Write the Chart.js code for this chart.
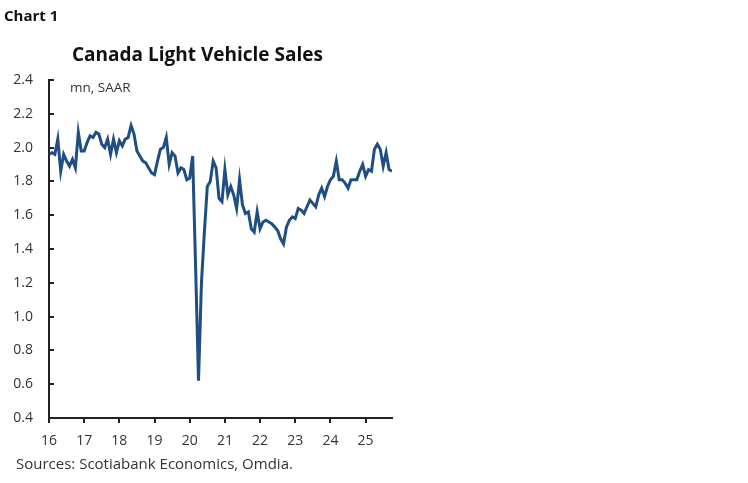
<!DOCTYPE html>
<html>
<head>
<meta charset="utf-8">
<script src="https://cdn.jsdelivr.net/npm/chart.js@4"></script>
<style>
  html, body { margin: 0; padding: 0; background: #fff; }
  body { width: 748px; height: 483px; position: relative; overflow: hidden; font-family: "Open Sans", sans-serif; color: #222; }
  #wrap { position: absolute; left: 0; top: 0; width: 748px; height: 483px; }
  .txt { position: absolute; white-space: nowrap; line-height: normal; }
  #chartNo { left: 4px; top: 5px; font-size: 15px; font-weight: bold; color: #111; }
  #title { left: 72px; top: 41px; font-size: 19px; font-weight: bold; color: #111; }
  #unit { left: 70px; top: 78px; font-size: 13.5px; color: #333; }
  #source { left: 16px; top: 453px; font-size: 15px; color: #333; }
</style>
</head>
<body>
<div id="wrap"><canvas id="chart" width="748" height="483"></canvas></div>
<div class="txt" id="chartNo">Chart 1</div>
<div class="txt" id="title">Canada Light Vehicle Sales</div>
<div class="txt" id="unit">mn, SAAR</div>
<div class="txt" id="source">Sources: Scotiabank Economics, Omdia.</div>
<script>
// monthly light vehicle sales, mn units SAAR, Jan 2016 onward
const startYear = 2016;
const sales2016 = [1.96, 1.97, 1.96, 2.05, 1.86, 1.96, 1.92, 1.89, 1.93, 1.88, 2.09, 1.98];
const sales2017 = [1.98, 2.03, 2.07, 2.06, 2.09, 2.08, 2.02, 2.00, 2.05, 1.96, 2.05, 1.97];
const sales2018 = [2.04, 2.01, 2.05, 2.06, 2.13, 2.08, 1.98, 1.95, 1.92, 1.91, 1.88, 1.85];
const sales2019 = [1.84, 1.92, 1.99, 2.00, 2.06, 1.90, 1.97, 1.95, 1.85, 1.88, 1.87, 1.81];
const sales2020 = [1.82, 1.95, 1.30, 0.62, 1.20, 1.50, 1.77, 1.80, 1.92, 1.88, 1.70, 1.68];
const sales2021 = [1.87, 1.72, 1.77, 1.72, 1.64, 1.81, 1.66, 1.61, 1.62, 1.52, 1.50, 1.62];
const sales2022 = [1.52, 1.56, 1.57, 1.56, 1.55, 1.53, 1.51, 1.46, 1.43, 1.53, 1.57, 1.59];
const sales2023 = [1.58, 1.64, 1.63, 1.61, 1.65, 1.69, 1.67, 1.65, 1.72, 1.76, 1.71, 1.77];
const sales2024 = [1.81, 1.83, 1.92, 1.81, 1.81, 1.79, 1.76, 1.81, 1.81, 1.81, 1.86, 1.90];
const sales2025 = [1.83, 1.87, 1.86, 1.99, 2.02, 1.99, 1.89, 1.97, 1.87, 1.86];

const yTicks = [0.4, 0.6, 0.8, 1.0, 1.2, 1.4, 1.6, 1.8, 2.0, 2.2, 2.4];
const xTickYears = [2016, 2017, 2018, 2019, 2020, 2021, 2022, 2023, 2024, 2025];

const allSales = [].concat(sales2016, sales2017, sales2018, sales2019, sales2020,
  sales2021, sales2022, sales2023, sales2024, sales2025);
const points = allSales.map((v, i) => ({ x: startYear + i / 12, y: v }));

const tickFont = { family: '"Open Sans", sans-serif', size: 14 };

new Chart(document.getElementById('chart').getContext('2d'), {
  type: 'line',
  data: { datasets: [{
    data: points,
    borderColor: '#1f4e82',
    backgroundColor: 'transparent',
    borderWidth: 3,
    pointRadius: 0,
    tension: 0
  }]},
  options: {
    responsive: false,
    animation: false,
    layout: { padding: { left: 0, top: 80, right: 356, bottom: 35 } },
    plugins: { legend: { display: false }, tooltip: { enabled: false } },
    scales: {
      x: {
        type: 'linear',
        min: startYear,
        max: startYear + (allSales.length - 1) / 12,
        afterFit: s => { s.height = 30; },
        afterBuildTicks: s => { s.ticks = xTickYears.map(v => ({ value: v })); },
        ticks: { color: '#333', font: tickFont, padding: 10, maxRotation: 0,
                 callback: v => String(v).slice(2) },
        grid: { drawOnChartArea: false, color: '#222', lineWidth: 2, tickLength: 5 },
        border: { color: '#222', width: 2 }
      },
      y: {
        min: 0.4, max: 2.4,
        afterFit: s => { s.width = 49; },
        afterBuildTicks: s => { s.ticks = yTicks.map(v => ({ value: v })); },
        // negative tick length puts the marks inside the plot, as in the original
        ticks: { color: '#333', font: tickFont, padding: 21,
                 callback: v => v.toFixed(1) },
        grid: { drawOnChartArea: false, color: '#222', lineWidth: 2, tickLength: -5 },
        border: { color: '#222', width: 2 }
      }
    }
  }
});
</script>
</body>
</html>
